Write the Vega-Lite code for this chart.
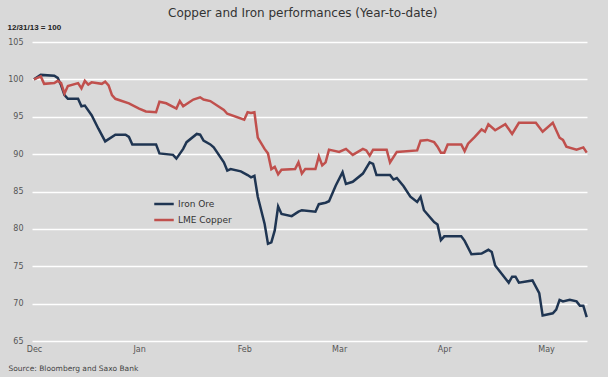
{
  "$schema": "https://vega.github.io/schema/vega-lite/v6.json",
  "width": 555,
  "height": 299,
  "autosize": {"type": "none"},
  "padding": {"left": 32, "top": 42, "right": 21, "bottom": 36},
  "background": "#d9d9d9",
  "title": {
    "text": "Copper and Iron performances (Year-to-date)",
    "anchor": "start",
    "frame": "group",
    "dx": 136,
    "dy": 11,
    "offset": 9,
    "baseline": "middle",
    "font": "DejaVu Sans",
    "fontSize": 12,
    "fontWeight": "normal",
    "color": "#333333"
  },
  "config": {
    "view": {"stroke": null},
    "font": "DejaVu Sans"
  },
  "data": {
    "values": [
      {"date": "2013-12-01", "series": "Iron Ore", "value": 100.0},
      {"date": "2013-12-03", "series": "Iron Ore", "value": 100.6},
      {"date": "2013-12-07", "series": "Iron Ore", "value": 100.5},
      {"date": "2013-12-08", "series": "Iron Ore", "value": 100.2},
      {"date": "2013-12-09", "series": "Iron Ore", "value": 99.2},
      {"date": "2013-12-10", "series": "Iron Ore", "value": 97.9},
      {"date": "2013-12-11", "series": "Iron Ore", "value": 97.4},
      {"date": "2013-12-14", "series": "Iron Ore", "value": 97.4},
      {"date": "2013-12-15", "series": "Iron Ore", "value": 96.4},
      {"date": "2013-12-16", "series": "Iron Ore", "value": 96.5},
      {"date": "2013-12-18", "series": "Iron Ore", "value": 95.2},
      {"date": "2013-12-20", "series": "Iron Ore", "value": 93.4},
      {"date": "2013-12-22", "series": "Iron Ore", "value": 91.7},
      {"date": "2013-12-25", "series": "Iron Ore", "value": 92.6},
      {"date": "2013-12-28", "series": "Iron Ore", "value": 92.6},
      {"date": "2013-12-29", "series": "Iron Ore", "value": 92.3},
      {"date": "2013-12-30", "series": "Iron Ore", "value": 91.3},
      {"date": "2014-01-06", "series": "Iron Ore", "value": 91.3},
      {"date": "2014-01-07", "series": "Iron Ore", "value": 90.1},
      {"date": "2014-01-11", "series": "Iron Ore", "value": 89.9},
      {"date": "2014-01-12", "series": "Iron Ore", "value": 89.4},
      {"date": "2014-01-14", "series": "Iron Ore", "value": 90.7},
      {"date": "2014-01-15", "series": "Iron Ore", "value": 91.6},
      {"date": "2014-01-18", "series": "Iron Ore", "value": 92.7},
      {"date": "2014-01-19", "series": "Iron Ore", "value": 92.6},
      {"date": "2014-01-20", "series": "Iron Ore", "value": 91.8},
      {"date": "2014-01-22", "series": "Iron Ore", "value": 91.3},
      {"date": "2014-01-23", "series": "Iron Ore", "value": 90.9},
      {"date": "2014-01-26", "series": "Iron Ore", "value": 88.9},
      {"date": "2014-01-27", "series": "Iron Ore", "value": 87.8},
      {"date": "2014-01-28", "series": "Iron Ore", "value": 88.0},
      {"date": "2014-01-31", "series": "Iron Ore", "value": 87.7},
      {"date": "2014-02-02", "series": "Iron Ore", "value": 87.2},
      {"date": "2014-02-03", "series": "Iron Ore", "value": 86.9},
      {"date": "2014-02-04", "series": "Iron Ore", "value": 87.1},
      {"date": "2014-02-05", "series": "Iron Ore", "value": 84.3},
      {"date": "2014-02-07", "series": "Iron Ore", "value": 80.7},
      {"date": "2014-02-08", "series": "Iron Ore", "value": 78.0},
      {"date": "2014-02-09", "series": "Iron Ore", "value": 78.2},
      {"date": "2014-02-10", "series": "Iron Ore", "value": 79.8},
      {"date": "2014-02-11", "series": "Iron Ore", "value": 83.0},
      {"date": "2014-02-12", "series": "Iron Ore", "value": 82.0},
      {"date": "2014-02-15", "series": "Iron Ore", "value": 81.7},
      {"date": "2014-02-17", "series": "Iron Ore", "value": 82.3},
      {"date": "2014-02-18", "series": "Iron Ore", "value": 82.5},
      {"date": "2014-02-22", "series": "Iron Ore", "value": 82.3},
      {"date": "2014-02-23", "series": "Iron Ore", "value": 83.3},
      {"date": "2014-02-25", "series": "Iron Ore", "value": 83.5},
      {"date": "2014-02-26", "series": "Iron Ore", "value": 83.7},
      {"date": "2014-02-28", "series": "Iron Ore", "value": 85.8},
      {"date": "2014-03-02", "series": "Iron Ore", "value": 87.6},
      {"date": "2014-03-03", "series": "Iron Ore", "value": 86.0},
      {"date": "2014-03-05", "series": "Iron Ore", "value": 86.3},
      {"date": "2014-03-08", "series": "Iron Ore", "value": 87.4},
      {"date": "2014-03-10", "series": "Iron Ore", "value": 88.9},
      {"date": "2014-03-11", "series": "Iron Ore", "value": 88.7},
      {"date": "2014-03-12", "series": "Iron Ore", "value": 87.2},
      {"date": "2014-03-16", "series": "Iron Ore", "value": 87.2},
      {"date": "2014-03-17", "series": "Iron Ore", "value": 86.6},
      {"date": "2014-03-18", "series": "Iron Ore", "value": 86.8},
      {"date": "2014-03-20", "series": "Iron Ore", "value": 85.7},
      {"date": "2014-03-22", "series": "Iron Ore", "value": 84.3},
      {"date": "2014-03-24", "series": "Iron Ore", "value": 83.6},
      {"date": "2014-03-25", "series": "Iron Ore", "value": 84.3},
      {"date": "2014-03-26", "series": "Iron Ore", "value": 82.5},
      {"date": "2014-03-29", "series": "Iron Ore", "value": 80.9},
      {"date": "2014-03-30", "series": "Iron Ore", "value": 80.6},
      {"date": "2014-03-31", "series": "Iron Ore", "value": 78.5},
      {"date": "2014-04-01", "series": "Iron Ore", "value": 79.0},
      {"date": "2014-04-06", "series": "Iron Ore", "value": 79.0},
      {"date": "2014-04-07", "series": "Iron Ore", "value": 78.4},
      {"date": "2014-04-09", "series": "Iron Ore", "value": 76.6},
      {"date": "2014-04-12", "series": "Iron Ore", "value": 76.7},
      {"date": "2014-04-14", "series": "Iron Ore", "value": 77.2},
      {"date": "2014-04-15", "series": "Iron Ore", "value": 76.9},
      {"date": "2014-04-16", "series": "Iron Ore", "value": 75.1},
      {"date": "2014-04-20", "series": "Iron Ore", "value": 72.8},
      {"date": "2014-04-21", "series": "Iron Ore", "value": 73.6},
      {"date": "2014-04-22", "series": "Iron Ore", "value": 73.6},
      {"date": "2014-04-23", "series": "Iron Ore", "value": 72.8},
      {"date": "2014-04-27", "series": "Iron Ore", "value": 73.1},
      {"date": "2014-04-29", "series": "Iron Ore", "value": 71.4},
      {"date": "2014-04-30", "series": "Iron Ore", "value": 68.4},
      {"date": "2014-05-03", "series": "Iron Ore", "value": 68.7},
      {"date": "2014-05-04", "series": "Iron Ore", "value": 69.2},
      {"date": "2014-05-05", "series": "Iron Ore", "value": 70.5},
      {"date": "2014-05-06", "series": "Iron Ore", "value": 70.3},
      {"date": "2014-05-08", "series": "Iron Ore", "value": 70.5},
      {"date": "2014-05-10", "series": "Iron Ore", "value": 70.3},
      {"date": "2014-05-11", "series": "Iron Ore", "value": 69.7},
      {"date": "2014-05-12", "series": "Iron Ore", "value": 69.7},
      {"date": "2014-05-13", "series": "Iron Ore", "value": 68.2},

      {"date": "2013-12-01", "series": "LME Copper", "value": 100.0},
      {"date": "2013-12-03", "series": "LME Copper", "value": 100.4},
      {"date": "2013-12-04", "series": "LME Copper", "value": 99.4},
      {"date": "2013-12-07", "series": "LME Copper", "value": 99.5},
      {"date": "2013-12-08", "series": "LME Copper", "value": 99.8},
      {"date": "2013-12-09", "series": "LME Copper", "value": 99.5},
      {"date": "2013-12-10", "series": "LME Copper", "value": 98.1},
      {"date": "2013-12-11", "series": "LME Copper", "value": 99.1},
      {"date": "2013-12-14", "series": "LME Copper", "value": 99.5},
      {"date": "2013-12-15", "series": "LME Copper", "value": 98.8},
      {"date": "2013-12-16", "series": "LME Copper", "value": 99.8},
      {"date": "2013-12-17", "series": "LME Copper", "value": 99.3},
      {"date": "2013-12-18", "series": "LME Copper", "value": 99.6},
      {"date": "2013-12-21", "series": "LME Copper", "value": 99.4},
      {"date": "2013-12-22", "series": "LME Copper", "value": 99.7},
      {"date": "2013-12-23", "series": "LME Copper", "value": 99.2},
      {"date": "2013-12-24", "series": "LME Copper", "value": 97.9},
      {"date": "2013-12-25", "series": "LME Copper", "value": 97.4},
      {"date": "2013-12-29", "series": "LME Copper", "value": 96.8},
      {"date": "2014-01-01", "series": "LME Copper", "value": 96.1},
      {"date": "2014-01-03", "series": "LME Copper", "value": 95.7},
      {"date": "2014-01-06", "series": "LME Copper", "value": 95.6},
      {"date": "2014-01-07", "series": "LME Copper", "value": 97.0},
      {"date": "2014-01-09", "series": "LME Copper", "value": 96.8},
      {"date": "2014-01-12", "series": "LME Copper", "value": 96.1},
      {"date": "2014-01-13", "series": "LME Copper", "value": 97.1},
      {"date": "2014-01-14", "series": "LME Copper", "value": 96.4},
      {"date": "2014-01-16", "series": "LME Copper", "value": 97.0},
      {"date": "2014-01-17", "series": "LME Copper", "value": 97.3},
      {"date": "2014-01-19", "series": "LME Copper", "value": 97.6},
      {"date": "2014-01-20", "series": "LME Copper", "value": 97.3},
      {"date": "2014-01-22", "series": "LME Copper", "value": 97.1},
      {"date": "2014-01-26", "series": "LME Copper", "value": 95.9},
      {"date": "2014-01-27", "series": "LME Copper", "value": 95.4},
      {"date": "2014-02-01", "series": "LME Copper", "value": 94.6},
      {"date": "2014-02-02", "series": "LME Copper", "value": 95.6},
      {"date": "2014-02-03", "series": "LME Copper", "value": 95.5},
      {"date": "2014-02-04", "series": "LME Copper", "value": 95.6},
      {"date": "2014-02-05", "series": "LME Copper", "value": 92.2},
      {"date": "2014-02-07", "series": "LME Copper", "value": 90.7},
      {"date": "2014-02-08", "series": "LME Copper", "value": 90.1},
      {"date": "2014-02-09", "series": "LME Copper", "value": 88.0},
      {"date": "2014-02-10", "series": "LME Copper", "value": 88.3},
      {"date": "2014-02-11", "series": "LME Copper", "value": 87.3},
      {"date": "2014-02-12", "series": "LME Copper", "value": 87.9},
      {"date": "2014-02-16", "series": "LME Copper", "value": 88.0},
      {"date": "2014-02-17", "series": "LME Copper", "value": 88.9},
      {"date": "2014-02-18", "series": "LME Copper", "value": 87.4},
      {"date": "2014-02-19", "series": "LME Copper", "value": 88.0},
      {"date": "2014-02-22", "series": "LME Copper", "value": 88.0},
      {"date": "2014-02-23", "series": "LME Copper", "value": 89.7},
      {"date": "2014-02-24", "series": "LME Copper", "value": 88.5},
      {"date": "2014-02-25", "series": "LME Copper", "value": 88.9},
      {"date": "2014-02-26", "series": "LME Copper", "value": 90.6},
      {"date": "2014-03-01", "series": "LME Copper", "value": 90.3},
      {"date": "2014-03-03", "series": "LME Copper", "value": 90.7},
      {"date": "2014-03-05", "series": "LME Copper", "value": 89.9},
      {"date": "2014-03-08", "series": "LME Copper", "value": 90.7},
      {"date": "2014-03-09", "series": "LME Copper", "value": 90.5},
      {"date": "2014-03-10", "series": "LME Copper", "value": 89.8},
      {"date": "2014-03-11", "series": "LME Copper", "value": 90.6},
      {"date": "2014-03-15", "series": "LME Copper", "value": 90.6},
      {"date": "2014-03-16", "series": "LME Copper", "value": 88.9},
      {"date": "2014-03-18", "series": "LME Copper", "value": 90.3},
      {"date": "2014-03-24", "series": "LME Copper", "value": 90.5},
      {"date": "2014-03-25", "series": "LME Copper", "value": 91.8},
      {"date": "2014-03-27", "series": "LME Copper", "value": 91.9},
      {"date": "2014-03-29", "series": "LME Copper", "value": 91.6},
      {"date": "2014-03-30", "series": "LME Copper", "value": 91.0},
      {"date": "2014-03-31", "series": "LME Copper", "value": 90.2},
      {"date": "2014-04-01", "series": "LME Copper", "value": 90.2},
      {"date": "2014-04-02", "series": "LME Copper", "value": 91.3},
      {"date": "2014-04-06", "series": "LME Copper", "value": 91.3},
      {"date": "2014-04-07", "series": "LME Copper", "value": 90.4},
      {"date": "2014-04-08", "series": "LME Copper", "value": 91.4},
      {"date": "2014-04-10", "series": "LME Copper", "value": 92.3},
      {"date": "2014-04-12", "series": "LME Copper", "value": 93.3},
      {"date": "2014-04-13", "series": "LME Copper", "value": 93.0},
      {"date": "2014-04-14", "series": "LME Copper", "value": 94.0},
      {"date": "2014-04-16", "series": "LME Copper", "value": 93.2},
      {"date": "2014-04-19", "series": "LME Copper", "value": 94.0},
      {"date": "2014-04-21", "series": "LME Copper", "value": 92.7},
      {"date": "2014-04-23", "series": "LME Copper", "value": 94.2},
      {"date": "2014-04-28", "series": "LME Copper", "value": 94.2},
      {"date": "2014-04-30", "series": "LME Copper", "value": 93.0},
      {"date": "2014-05-03", "series": "LME Copper", "value": 94.2},
      {"date": "2014-05-05", "series": "LME Copper", "value": 92.2},
      {"date": "2014-05-06", "series": "LME Copper", "value": 91.9},
      {"date": "2014-05-07", "series": "LME Copper", "value": 91.0},
      {"date": "2014-05-10", "series": "LME Copper", "value": 90.6},
      {"date": "2014-05-12", "series": "LME Copper", "value": 90.9},
      {"date": "2014-05-13", "series": "LME Copper", "value": 90.2}
    ]
  },
  "mark": {"type": "line", "strokeWidth": 2.5, "interpolate": "linear"},
  "encoding": {
    "x": {
      "field": "date",
      "type": "temporal",
      "scale": {
        "type": "utc",
        "domain": [
          {"year": 2013, "month": 11, "date": 30, "hours": 10, "utc": true},
          {"year": 2014, "month": 5, "date": 13, "hours": 2, "utc": true}
        ]
      },
      "axis": {
        "values": [
          {"year": 2013, "month": 12, "date": 1, "utc": true},
          {"year": 2014, "month": 1, "date": 1, "utc": true},
          {"year": 2014, "month": 2, "date": 1, "utc": true},
          {"year": 2014, "month": 3, "date": 1, "utc": true},
          {"year": 2014, "month": 4, "date": 1, "utc": true},
          {"year": 2014, "month": 5, "date": 1, "utc": true}
        ],
        "format": "%b",
        "grid": false,
        "ticks": false,
        "domain": false,
        "labelPadding": 4,
        "labelFont": "DejaVu Sans",
        "labelFontSize": 8,
        "labelColor": "#555555",
        "title": "Source: Bloomberg and Saxo Bank",
        "titleFont": "DejaVu Sans",
        "titleFontSize": 7.5,
        "titleFontWeight": "normal",
        "titleColor": "#444444",
        "titleAlign": "left",
        "titleBaseline": "middle",
        "titleAnchor": "start",
        "titleX": -24,
        "titleY": 27
      }
    },
    "y": {
      "field": "value",
      "type": "quantitative",
      "scale": {"domain": [65, 105], "nice": false, "zero": false},
      "axis": {
        "values": [65, 70, 75, 80, 85, 90, 95, 100, 105],
        "grid": true,
        "gridColor": "#ffffff",
        "gridWidth": 1.5,
        "gridOpacity": 1,
        "ticks": false,
        "domain": false,
        "labelPadding": 9,
        "labelFont": "DejaVu Sans",
        "labelFontSize": 8,
        "labelColor": "#555555",
        "title": "12/31/13 = 100",
        "titleAngle": 0,
        "titleFont": "Liberation Sans",
        "titleFontSize": 8,
        "titleFontWeight": "bold",
        "titleColor": "#222222",
        "titleAlign": "left",
        "titleBaseline": "middle",
        "titleX": -25,
        "titleY": -15
      }
    },
    "color": {
      "field": "series",
      "type": "nominal",
      "scale": {"domain": ["Iron Ore", "LME Copper"], "range": ["#1f3552", "#c0504d"]},
      "legend": {
        "title": null,
        "orient": "none",
        "legendX": 121,
        "legendY": 151,
        "symbolType": "stroke",
        "symbolSize": 380,
        "symbolStrokeWidth": 2.5,
        "labelFont": "DejaVu Sans",
        "labelFontSize": 9,
        "labelColor": "#333333",
        "labelOffset": 3,
        "rowPadding": 0
      }
    }
  }
}
